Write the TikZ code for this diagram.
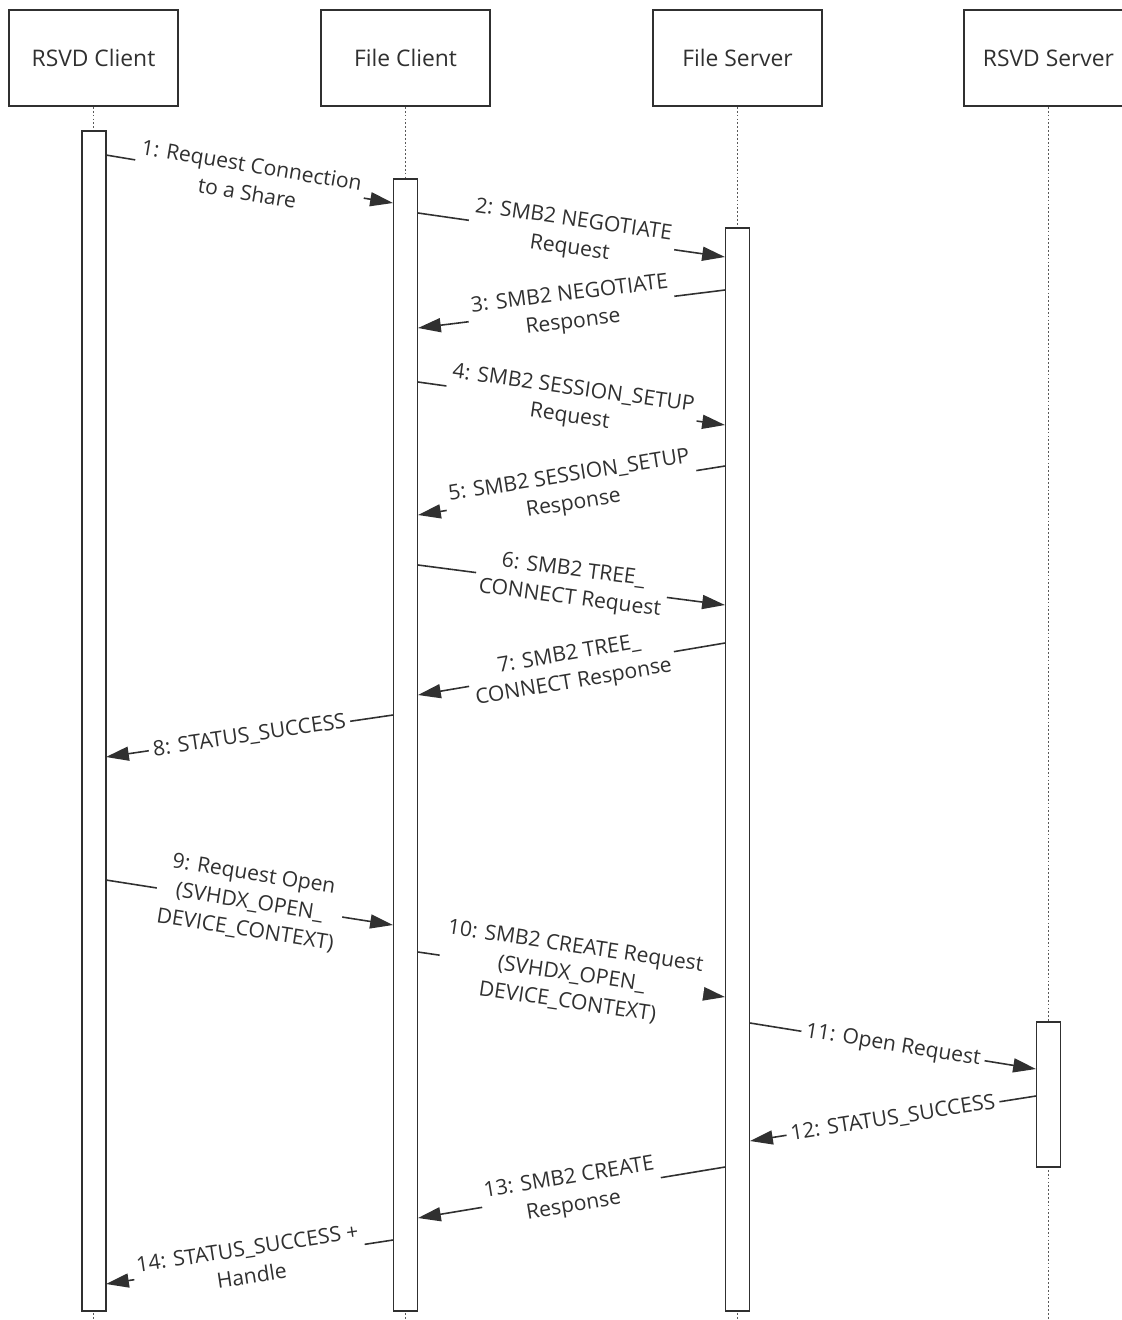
\documentclass[tikz,border=0pt]{standalone}
\usepackage{fontspec}
\setmainfont{Open Sans}
\usetikzlibrary{arrows.meta}
\definecolor{ink}{RGB}{48,48,48}

\begin{document}
\begin{tikzpicture}[x=0.02cm, y=-0.02cm,
  actor/.style={draw=ink, line width=1.1pt, minimum width=3.38cm, minimum height=1.92cm, font=\fontsize{13}{15}\selectfont, text=ink},
  actbar/.style={draw=ink, line width=1pt, fill=white, minimum width=0.48cm, anchor=north, inner sep=0pt},
  life/.style={draw=ink!80, line width=0.6pt, dash pattern=on 1pt off 1.2pt},
  msg/.style={draw=ink, line width=0.9pt, -{Triangle[length=13pt, width=8pt]}},
  lbl/.style={sloped, fill=white, align=center, inner sep=2.5pt, text=ink, font=\fontsize{12}{16}\selectfont},
]
\useasboundingbox (0,0) rectangle (1122,1320);

% participants
\node[actor] (rc) at (93.5,58) {RSVD Client};
\node[actor] (fc) at (405.5,58) {File Client};
\node[actor] (fs) at (737.5,58) {File Server};
\node[actor] (rs) at (1048.5,58) {RSVD Server};

% lifelines
\foreach \p in {rc,fc,fs,rs}
  \draw[life] (\p.south) -- (\p.south |- 0,1320);

% activation bars
\node[actbar, minimum height=23.6cm] (rcbar) at (94,130) {};
\node[actbar, minimum height=22.64cm] (fcbar) at (405.5,178) {};
\node[actbar, minimum height=21.66cm] (fsbar) at (737.5,227) {};
\node[actbar, minimum height=2.9cm] (rsbar) at (1048.5,1021) {};

% messages
\foreach \n/\xa/\ya/\xb/\yb/\txt in {
  1/106/155/393/203/{1: Request Connection\\to a Share},
  2/418/213/725/257/{2: SMB2 NEGOTIATE\\Request},
  3/725/290/418/328/{3: SMB2 NEGOTIATE\\Response},
  4/418/382/725/425/{4: SMB2 SESSION\_SETUP\\Request},
  5/725/466/418/515/{5: SMB2 SESSION\_SETUP\\Response},
  6/418/565/725/605/{6: SMB2 TREE\_\\CONNECT Request},
  7/725/643/418/695/{7: SMB2 TREE\_\\CONNECT Response},
  8/393/715/106/757/{8: STATUS\_SUCCESS},
  9/106/880/393/925/{9: Request Open\\(SVHDX\_OPEN\_\\DEVICE\_CONTEXT)},
  10/418/952/725/997/{10: SMB2 CREATE Request\\(SVHDX\_OPEN\_\\DEVICE\_CONTEXT)},
  11/750/1023/1036/1069/{11: Open Request},
  12/1036/1096/750/1141/{12: STATUS\_SUCCESS},
  13/725/1167/418/1218/{13: SMB2 CREATE\\Response},
  14/393/1240/106/1284/{14: STATUS\_SUCCESS +\\Handle}} {
  \coordinate (s\n) at (\xa,\ya);
  \coordinate (e\n) at (\xb,\yb);
  \draw[msg] (s\n) -- node[lbl] {\txt} (e\n);
}
\end{tikzpicture}
\end{document}
